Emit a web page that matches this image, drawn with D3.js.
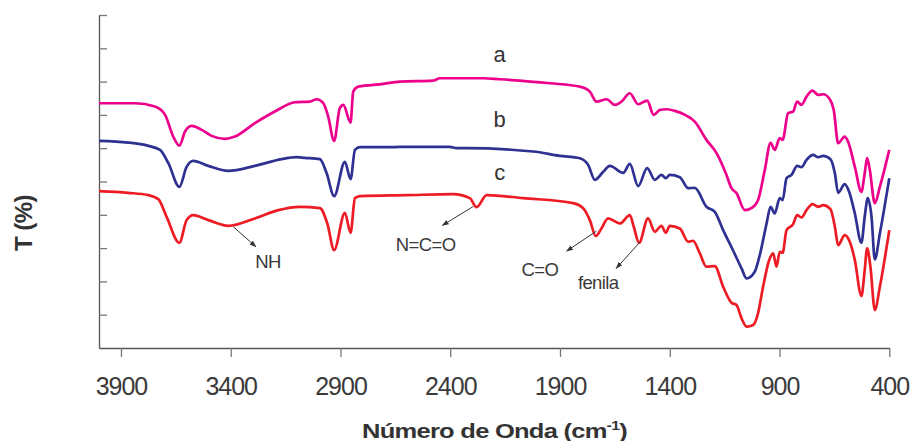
<!DOCTYPE html>
<html><head><meta charset="utf-8">
<script src="https://cdn.jsdelivr.net/npm/d3@7"></script>
<style>
html,body{margin:0;padding:0;background:#fff;}
svg{display:block;font-family:"Liberation Sans",Arial,sans-serif;}
</style></head>
<body><svg id="c" width="914" height="441"></svg>
<script>
// wavenumber (cm-1), transmittance (arbitrary %, offset spectra)
const seriesA = [[4000,73.5],[3836,73.5],[3745,72.5],[3699,70.0],[3662,63.5],[3634,60.8],[3608,65.0],[3578,66.7],[3532,65.5],[3487,63.7],[3426,62.8],[3381,63.5],[3290,67.5],[3199,71.0],[3107,73.8],[3039,74.0],[3009,74.7],[2979,73.6],[2956,69.5],[2929,62.2],[2903,72.0],[2887,73.0],[2854,67.7],[2842,77.0],[2819,78.5],[2705,79.3],[2629,80.0],[2478,80.3],[2447,81.0],[2250,81.0],[2174,80.7],[1946,79.5],[1810,78.5],[1764,77.0],[1734,74.0],[1688,74.7],[1650,73.0],[1620,74.0],[1582,76.5],[1544,73.2],[1503,74.3],[1473,70.0],[1445,71.5],[1415,71.7],[1377,71.2],[1331,70.0],[1286,68.0],[1233,62.5],[1187,58.5],[1142,52.0],[1119,48.0],[1096,46.5],[1058,41.4],[1028,42.0],[998,44.4],[967,53.5],[941,61.6],[922,59.5],[899,63.0],[886,62.5],[861,70.5],[838,71.0],[820,74.0],[800,73.0],[777,75.5],[750,77.3],[724,76.0],[701,76.2],[671,74.7],[653,71.5],[633,61.5],[603,63.5],[588,62.0],[557,54.4],[527,46.9],[512,52.5],[501,57.0],[489,53.5],[466,43.5],[443,48.4],[400,59.5]];
const seriesB = [[4000,62.2],[3867,61.7],[3775,60.7],[3722,59.5],[3684,55.5],[3634,48.4],[3601,54.4],[3571,56.2],[3502,54.7],[3411,53.2],[3290,54.7],[3168,56.7],[3100,57.3],[3062,57.1],[2994,56.7],[2963,52.5],[2929,45.6],[2880,55.9],[2854,50.7],[2834,59.5],[2811,60.3],[2675,60.3],[2629,60.4],[2402,60.4],[2371,60.0],[2326,60.0],[2022,59.0],[1901,57.7],[1810,57.0],[1772,55.0],[1741,50.5],[1703,52.9],[1673,54.7],[1612,52.6],[1582,55.3],[1544,48.6],[1503,54.0],[1468,50.5],[1438,52.0],[1418,51.0],[1400,52.0],[1354,51.3],[1316,48.0],[1286,48.1],[1233,42.4],[1195,40.9],[1157,35.4],[1111,29.2],[1073,23.9],[1050,20.9],[1013,22.9],[990,27.9],[959,37.4],[941,42.4],[922,40.4],[899,45.0],[886,44.4],[868,51.0],[845,52.0],[820,54.7],[800,54.3],[777,56.5],[747,58.0],[724,57.3],[701,57.7],[668,56.7],[648,52.5],[633,46.6],[603,49.2],[583,46.9],[557,40.4],[527,31.6],[512,39.4],[498,45.0],[481,39.4],[466,26.6],[443,34.4],[400,51.0]];
const seriesC = [[4000,47.1],[3867,46.6],[3775,45.9],[3730,44.7],[3692,39.4],[3634,31.6],[3601,38.4],[3571,39.9],[3502,38.4],[3411,36.7],[3290,38.9],[3183,41.4],[3085,42.4],[2994,42.0],[2960,37.4],[2929,29.4],[2880,40.6],[2854,34.6],[2834,45.0],[2811,45.6],[2599,45.9],[2387,46.2],[2311,45.0],[2280,42.3],[2234,45.9],[2068,45.0],[1840,43.5],[1795,42.0],[1764,38.4],[1737,33.6],[1711,35.9],[1681,38.9],[1627,37.4],[1582,39.9],[1564,36.4],[1540,31.6],[1499,38.9],[1468,34.9],[1438,36.7],[1418,34.6],[1400,36.7],[1354,35.9],[1316,31.9],[1294,32.2],[1263,28.4],[1233,24.4],[1195,24.6],[1157,18.4],[1119,13.6],[1096,12.9],[1073,8.9],[1050,6.4],[1020,6.9],[998,10.4],[975,18.4],[947,26.4],[929,28.4],[914,24.4],[899,28.9],[886,28.6],[868,35.4],[838,37.2],[820,39.9],[800,39.2],[777,41.4],[750,43.2],[724,42.4],[701,42.9],[668,41.7],[648,36.4],[633,30.9],[603,33.9],[580,31.9],[557,26.4],[527,15.6],[512,23.4],[501,29.9],[486,24.4],[466,11.4],[443,18.4],[400,35.4]];
const seriesNames = ["a","b","c"];
const seriesColors = ["#ec008c","#2e3192","#ed1c24"];
const seriesLabelPos = [[2175,85.9],[2175,66.4],[2175,50.5]];
const xTicks = [3900,3400,2900,2400,1900,1400,900,400];
const yTicks = [10,20,30,40,50,60,70,80,90,100];
const xTitle = "Número de Onda (cm";
const xTitleSup = "-1";
const yTitle = "T (%)";
// annotations: label, arrow start [w,T], arrow end [w,T], text anchor [w,T]
const annotations = [
  {text:"NH", from:[3388,36.4], to:[3285,30.4], at:[3230,24.1]},
  {text:"N=C=O", from:[2295,42.5], to:[2436,36.8], at:[2512,29.1]},
  {text:"C=O", from:[1734,35.1], to:[1870,29.1], at:[1992,21.5]},
  {text:"fenila", from:[1536,31.8], to:[1644,23.9], at:[1726,17.6]}
];

const svg = d3.select("#c");
const x = d3.scaleLinear().domain([4000,400]).range([99,889.3]);
const y = d3.scaleLinear().domain([0,100]).range([348,15]);

// axes
const gx = svg.append("g").attr("transform","translate(0,348)")
  .call(d3.axisBottom(x).tickValues(xTicks).tickSizeInner(9).tickSizeOuter(0).tickPadding(20).tickFormat(d3.format("d")));
gx.select(".domain").attr("stroke","#555").attr("stroke-width",1.3);
gx.selectAll(".tick line").attr("stroke","#777").attr("stroke-width",1.3);
gx.selectAll(".tick text").attr("fill","#3a3a3a").attr("font-size",25).attr("font-family","Liberation Sans, Arial, sans-serif").attr("letter-spacing","-1px").attr("dy","0.71em");

const gy = svg.append("g").attr("transform","translate(99,0)")
  .call(d3.axisLeft(y).tickValues(yTicks).tickSizeInner(-8).tickSizeOuter(0).tickFormat(""));
gy.select(".domain").attr("stroke","#555").attr("stroke-width",1.3);
gy.selectAll(".tick line").attr("stroke","#777").attr("stroke-width",1.3);

// curves
const line = d3.line().x(d=>x(d[0])).y(d=>y(d[1])).curve(d3.curveMonotoneX);
[seriesA,seriesB,seriesC].forEach((s,i)=>{
  svg.append("path").datum(s).attr("d",line).attr("fill","none")
    .attr("stroke",seriesColors[i]).attr("stroke-width",2.7).attr("stroke-linejoin","round");
});

// series labels
seriesNames.forEach((n,i)=>{
  svg.append("text").attr("x",x(seriesLabelPos[i][0])).attr("y",y(seriesLabelPos[i][1]))
    .attr("text-anchor","middle").attr("font-size",22).attr("fill","#333").text(n);
});

// arrows
svg.append("defs").append("marker").attr("id","ah").attr("viewBox","0 0 10 10")
  .attr("refX",9).attr("refY",5).attr("markerWidth",7).attr("markerHeight",7).attr("orient","auto")
  .append("path").attr("d","M0,1.5 L10,5 L0,8.5 Z").attr("fill","#333");
annotations.forEach(a=>{
  svg.append("line").attr("x1",x(a.from[0])).attr("y1",y(a.from[1]))
    .attr("x2",x(a.to[0])).attr("y2",y(a.to[1])).attr("stroke","#333").attr("stroke-width",1)
    .attr("marker-end","url(#ah)");
  svg.append("text").attr("x",x(a.at[0])).attr("y",y(a.at[1])).attr("text-anchor","middle")
    .attr("font-size",18.5).attr("fill","#3a3a3a").attr("letter-spacing","-0.6px").text(a.text);
});

// axis titles
const cx = 494.5;
const xt = svg.append("text").attr("x",cx).attr("y",438).attr("text-anchor","middle")
  .attr("font-size",21).attr("font-weight","bold").attr("fill","#333").attr("letter-spacing","-0.6px");
xt.append("tspan").text(xTitle);
xt.append("tspan").attr("font-size",13).attr("dy",-8).text(xTitleSup);
xt.append("tspan").attr("dy",8).text(")");
const bw = xt.node().getBBox().width;
const sx = 265 / bw;
xt.attr("transform",`translate(${cx},0) scale(${sx},1) translate(${-cx},0)`);

svg.append("text").attr("transform","translate(32,223) rotate(-90)").attr("text-anchor","middle")
  .attr("font-size",24).attr("font-weight","bold").attr("fill","#333").attr("letter-spacing","-0.5px").text(yTitle);
</script></body></html>
